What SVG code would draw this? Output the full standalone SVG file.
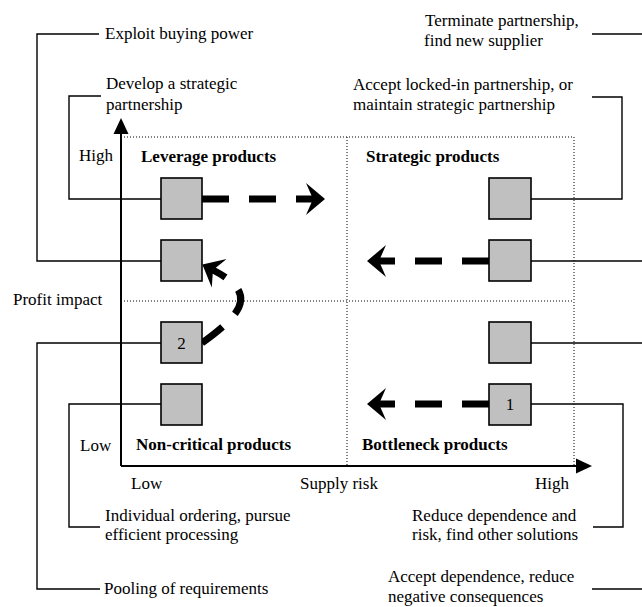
<svg xmlns="http://www.w3.org/2000/svg" width="642" height="607" viewBox="0 0 642 607">
<style>
text{font-family:"Liberation Serif","Times New Roman",serif;font-size:17px;fill:#000}
.b{font-weight:bold}
.box{fill:#c0c0c0;stroke:#000;stroke-width:1.6}
.ln{fill:none;stroke:#000;stroke-width:1.4}
.dot{fill:none;stroke:#000;stroke-width:1;stroke-dasharray:1 2}
.ax{fill:none;stroke:#000;stroke-width:2}
.dash{fill:none;stroke:#000;stroke-width:7;stroke-dasharray:27 20}
</style>
<defs>
<marker id="big" markerUnits="userSpaceOnUse" viewBox="0 -17 20 34" refX="7" refY="0" markerWidth="20" markerHeight="34" orient="auto">
<path d="M19,0 L0,-16 L7,0 L0,16 Z" fill="#000"/>
</marker>
<marker id="tri" markerUnits="userSpaceOnUse" viewBox="0 -8 16 16" refX="1" refY="0" markerWidth="16" markerHeight="16" orient="auto">
<path d="M16,0 L0,-7.5 L0,7.5 Z" fill="#000"/>
</marker>
</defs>

<g id="grid">
<path class="dot" d="M121,137 H574 V466"/>
<path class="dot" d="M347,137 V466"/>
<path class="dot" d="M121,301 H574"/>
</g>

<g id="axes">
<path class="ax" d="M121,466 V133" marker-end="url(#tri)"/>
<path class="ax" d="M121,466 H577" marker-end="url(#tri)"/>
<text x="79" y="161">High</text>
<text x="80" y="451">Low</text>
<text x="13" y="305">Profit impact</text>
<text x="131" y="489">Low</text>
<text x="300" y="489">Supply risk</text>
<text x="535" y="489">High</text>
</g>

<g id="quadrant-labels">
<text class="b" x="141" y="162">Leverage products</text>
<text class="b" x="366" y="162">Strategic products</text>
<text class="b" x="136" y="450">Non-critical products</text>
<text class="b" x="362" y="450">Bottleneck products</text>
</g>

<g id="connectors">
<path class="ln" d="M99,34 H37 V261 H161"/>
<path class="ln" d="M101,96 H69 V199 H161"/>
<path class="ln" d="M161,343 H37 V589 H100"/>
<path class="ln" d="M161,404 H69 V527 H100"/>
<path class="ln" d="M592,34 H642"/>
<path class="ln" d="M592,97 H622 V199 H531"/>
<path class="ln" d="M531,261 H642"/>
<path class="ln" d="M531,343 H642"/>
<path class="ln" d="M531,404 H623 V527 H593"/>
<path class="ln" d="M592,589 H642"/>
<path class="dash" d="M202,199 H313" marker-end="url(#big)"/>
<path class="dash" d="M489,261 H379" marker-end="url(#big)"/>
<path class="dash" d="M489,404 H379" marker-end="url(#big)"/>
<path class="dash" style="stroke-dasharray:26 18" d="M202,343 C248,310 255,292 213,270" marker-end="url(#big)"/>
</g>

<g id="box-leverage-1"><rect class="box" x="161" y="178" width="41" height="41"/></g>
<g id="box-leverage-2"><rect class="box" x="161" y="240" width="41" height="41"/></g>
<g id="box-noncritical-2"><rect class="box" x="161" y="322" width="41" height="41"/><text x="181.5" y="349" text-anchor="middle">2</text></g>
<g id="box-noncritical-1"><rect class="box" x="161" y="384" width="41" height="41"/></g>
<g id="box-strategic-1"><rect class="box" x="489" y="178" width="42" height="41"/></g>
<g id="box-strategic-2"><rect class="box" x="489" y="240" width="42" height="41"/></g>
<g id="box-bottleneck-2"><rect class="box" x="489" y="322" width="42" height="41"/></g>
<g id="box-bottleneck-1"><rect class="box" x="489" y="384" width="42" height="41"/><text x="510" y="410" text-anchor="middle">1</text></g>

<g id="label-exploit"><text x="105" y="39">Exploit buying power</text></g>
<g id="label-develop"><text x="106" y="89">Develop a strategic</text><text x="106" y="110">partnership</text></g>
<g id="label-individual"><text x="105" y="521">Individual ordering, pursue</text><text x="105" y="540">efficient processing</text></g>
<g id="label-pooling"><text x="104" y="594">Pooling of requirements</text></g>
<g id="label-terminate"><text x="425" y="26">Terminate partnership,</text><text x="424" y="46">find new supplier</text></g>
<g id="label-accept-locked"><text x="353" y="90">Accept locked-in partnership, or</text><text x="353" y="110">maintain strategic partnership</text></g>
<g id="label-reduce"><text x="412" y="521">Reduce dependence and</text><text x="412" y="540">risk, find other solutions</text></g>
<g id="label-accept-dep"><text x="388" y="582">Accept dependence, reduce</text><text x="388" y="602">negative consequences</text></g>
</svg>
